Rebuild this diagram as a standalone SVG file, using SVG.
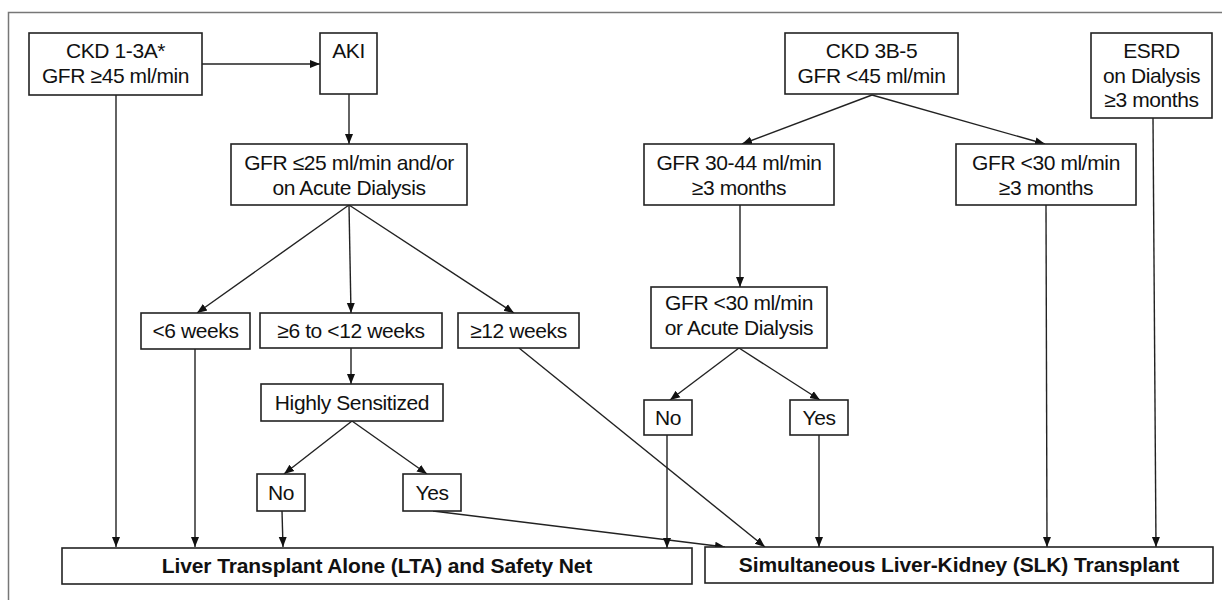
<svg xmlns="http://www.w3.org/2000/svg" width="1222" height="600" viewBox="0 0 1222 600">
<style>
.box{fill:#fff;stroke:#222;stroke-width:1.6}
.t{font-family:"Liberation Sans",Arial,sans-serif;font-size:21px;fill:#111;text-anchor:middle;letter-spacing:-0.4px}
.b{font-family:"Liberation Sans",Arial,sans-serif;font-size:21px;font-weight:bold;fill:#111;text-anchor:middle;letter-spacing:-0.1px}
.c line{stroke:#222;stroke-width:1.4;fill:none}
.a{marker-end:url(#ah)}
</style>
<defs>
<marker id="ah" viewBox="0 0 10 10" refX="10" refY="5" markerWidth="10" markerHeight="10" markerUnits="userSpaceOnUse" orient="auto">
<path d="M0,1 L10,5 L0,9 Z" fill="#111"/>
</marker>
</defs>
<rect width="1222" height="600" fill="#fff"/>
<path d="M8.5,600 V12.5 H1222" fill="none" stroke="#777" stroke-width="1.5"/>
<g class="c">
<line class="a" x1="202" y1="64" x2="320" y2="64"/>
<line class="a" x1="349" y1="94" x2="349" y2="144"/>
<line class="a" x1="116" y1="95" x2="116" y2="547"/>
<line class="a" x1="349" y1="205" x2="197" y2="313"/>
<line class="a" x1="349" y1="205" x2="351" y2="313"/>
<line class="a" x1="349" y1="205" x2="514" y2="313"/>
<line class="a" x1="195" y1="349" x2="195" y2="547"/>
<line class="a" x1="351" y1="348" x2="351" y2="384"/>
<line class="a" x1="352" y1="421" x2="284" y2="474"/>
<line class="a" x1="352" y1="421" x2="427" y2="474"/>
<line class="a" x1="282" y1="511" x2="283" y2="547"/>
<line class="a" x1="433" y1="511" x2="725" y2="547"/>
<line class="a" x1="519" y1="348" x2="765" y2="547"/>
<line class="a" x1="872" y1="95" x2="742" y2="144"/>
<line class="a" x1="872" y1="95" x2="1045" y2="144"/>
<line class="a" x1="740" y1="205" x2="740" y2="287"/>
<line class="a" x1="739" y1="348" x2="670" y2="400"/>
<line class="a" x1="739" y1="348" x2="820" y2="400"/>
<line class="a" x1="667" y1="435" x2="667" y2="548"/>
<line class="a" x1="819" y1="435" x2="819" y2="547"/>
<line class="a" x1="1046" y1="205" x2="1047" y2="547"/>
<line class="a" x1="1153" y1="118" x2="1156" y2="547"/>
</g>
<g id="ckd13a"><rect class="box" x="29" y="33" width="173" height="62"/><text class="t" x="115.5" y="58">CKD 1-3A*</text><text class="t" x="115.5" y="83">GFR ≥45 ml/min</text></g>
<g id="aki"><rect class="box" x="320" y="33" width="57" height="61"/><text class="t" x="348.5" y="58">AKI</text></g>
<g id="gfr25"><rect class="box" x="231" y="144" width="236" height="61"/><text class="t" x="349" y="170">GFR ≤25 ml/min and/or</text><text class="t" x="349" y="195">on Acute Dialysis</text></g>
<g id="lt6"><rect class="box" x="141" y="313" width="109" height="36"/><text class="t" x="195.5" y="338">&lt;6 weeks</text></g>
<g id="w6to12"><rect class="box" x="260" y="313" width="182" height="35"/><text class="t" x="351" y="338">≥6 to &lt;12 weeks</text></g>
<g id="ge12"><rect class="box" x="458" y="313" width="121" height="35"/><text class="t" x="518.5" y="338">≥12 weeks</text></g>
<g id="hs"><rect class="box" x="261" y="384" width="182" height="37"/><text class="t" x="352" y="410">Highly Sensitized</text></g>
<g id="no1"><rect class="box" x="257" y="474" width="48" height="37"/><text class="t" x="281" y="500">No</text></g>
<g id="yes1"><rect class="box" x="403" y="474" width="58" height="37"/><text class="t" x="432" y="500">Yes</text></g>
<g id="ckd3b5"><rect class="box" x="785" y="33" width="173" height="61"/><text class="t" x="871.5" y="58">CKD 3B-5</text><text class="t" x="871.5" y="83">GFR &lt;45 ml/min</text></g>
<g id="esrd"><rect class="box" x="1091" y="33" width="121" height="85"/><text class="t" x="1151.5" y="58">ESRD</text><text class="t" x="1151.5" y="83">on Dialysis</text><text class="t" x="1151.5" y="107">≥3 months</text></g>
<g id="gfr3044"><rect class="box" x="644" y="144" width="190" height="61"/><text class="t" x="739" y="170">GFR 30-44 ml/min</text><text class="t" x="739" y="195">≥3 months</text></g>
<g id="gfrlt30"><rect class="box" x="956" y="144" width="180" height="61"/><text class="t" x="1046" y="170">GFR &lt;30 ml/min</text><text class="t" x="1046" y="195">≥3 months</text></g>
<g id="gfrlt30ad"><rect class="box" x="651" y="287" width="176" height="61"/><text class="t" x="739" y="310">GFR &lt;30 ml/min</text><text class="t" x="739" y="335">or Acute Dialysis</text></g>
<g id="no2"><rect class="box" x="644" y="400" width="48" height="35"/><text class="t" x="668" y="425">No</text></g>
<g id="yes2"><rect class="box" x="790" y="400" width="58" height="35"/><text class="t" x="819" y="425">Yes</text></g>
<g id="lta"><rect class="box" x="62" y="548" width="630" height="36"/><text class="b" x="377" y="573">Liver Transplant Alone (LTA) and Safety Net</text></g>
<g id="slk"><rect class="box" x="705" y="547" width="508" height="36"/><text class="b" x="959" y="572">Simultaneous Liver-Kidney (SLK) Transplant</text></g>
</svg>
